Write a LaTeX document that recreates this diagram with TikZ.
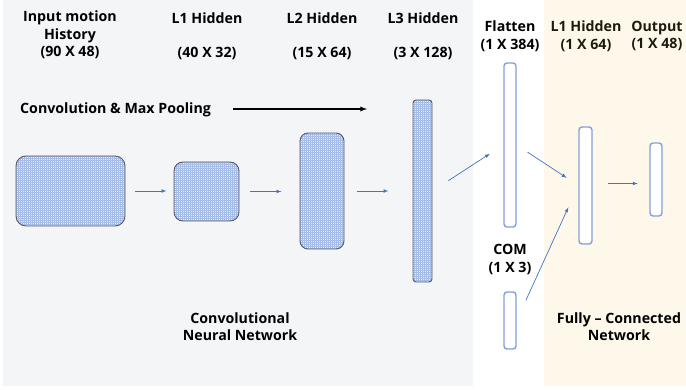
\documentclass[tikz,border=0pt]{standalone}
\usepackage{fontspec}
\setmainfont{Open Sans}
\usetikzlibrary{patterns}

\definecolor{cnnbg}{RGB}{244,245,247}
\definecolor{fcbg}{RGB}{254,248,234}
\definecolor{barblue}{RGB}{130,160,220}
\definecolor{arrblue}{RGB}{68,114,196}
\definecolor{gridblue}{RGB}{165,188,232}
\definecolor{fctext}{RGB}{30,26,12}

% finer grid than the library one
\pgfdeclarepatternformonly{finegrid}{\pgfqpoint{-1pt}{-1pt}}{\pgfqpoint{3pt}{3pt}}{\pgfqpoint{2pt}{2pt}}
{
  \pgfsetlinewidth{0.35pt}
  \pgfpathmoveto{\pgfqpoint{0pt}{0pt}}
  \pgfpathlineto{\pgfqpoint{0pt}{2.1pt}}
  \pgfpathmoveto{\pgfqpoint{0pt}{0pt}}
  \pgfpathlineto{\pgfqpoint{2.1pt}{0pt}}
  \pgfusepath{stroke}
}

\begin{document}
\begin{tikzpicture}[x=1pt,y=-1pt,
    every node/.style={font=\fontsize{14.2}{17.5}\selectfont\bfseries},
    layer/.style={draw={rgb,255:red,90;green,90;blue,95},line width=0.9pt,
        preaction={fill={rgb,255:red,226;green,233;blue,246}},
        preaction={pattern=finegrid,pattern color=gridblue},inner sep=0pt},
    bar/.style={draw=barblue,line width=1.4pt,fill=white,rounded corners=3pt,
        minimum width=12pt,inner sep=0pt},
    flow/.style={arrblue,-latex,line width=0.7pt},
    label/.style={align=center,inner sep=0pt}
]
    \useasboundingbox (0,0) rectangle (686,390);
    \fill[cnnbg] (3,0) rectangle (473,386);
    \fill[fcbg] (544,0) rectangle (686,386);

    % convolution part
    \node[layer,rounded corners=10pt,minimum width=109pt,minimum height=70pt] (in) at (70.5,191) {};
    \node[layer,rounded corners=9pt,minimum width=65pt,minimum height=59pt] (h1) at (206.5,191.5) {};
    \node[layer,rounded corners=8pt,minimum width=44pt,minimum height=116pt] (h2) at (322,191) {};
    \node[layer,rounded corners=3pt,minimum width=19pt,minimum height=182pt] (h3) at (422.5,191) {};

    \draw[flow] ([xshift=10]in.east) -- ++(31,0);
    \draw[flow] ([xshift=11]h1.east) -- ++(31,0);
    \draw[flow] ([xshift=13]h2.east) -- ++(31,0);

    % fully connected part
    \node[bar,minimum height=164pt] (flat) at (510,145) {};
    \node[bar,minimum height=57pt] (com) at (510,320.5) {};
    \node[bar,minimum width=13pt,minimum height=117pt] (fc1) at (585.5,185.5) {};
    \node[bar,minimum height=73pt] (out) at (656,179.5) {};

    \draw[flow,shorten <=19pt,shorten >=16pt] (h3.east) -- (flat.west);
    \draw[flow,shorten <=13pt,shorten >=14pt] (flat.east) -- (fc1.west);
    \draw[flow,shorten <=22pt,shorten >=24pt] (com.east) -- (fc1.west);
    \draw[flow] ([xshift=15,yshift=2]fc1.east) -- ++(30,0);

    \coordinate (cs) at (233,109);
    \coordinate (ce) at (367,109);
    \draw[-latex,line width=1.3pt] (cs) -- (ce);

    % labels
    \node[label] (tin) at (70,35) {Input motion\\History\\(90 X 48)};
    \node[label] (t1) at (207,18) {L1 Hidden};
    \node[label] (d1) at (207,53) {(40 X 32)};
    \node[label] (t2) at (322,18) {L2 Hidden};
    \node[label] (d2) at (322,53) {(15 X 64)};
    \node[label] (t3) at (423,18) {L3 Hidden};
    \node[label] (d3) at (423,53) {(3 X 128)};
    \node[label,anchor=west] (conv) at (20,110) {Convolution \& Max Pooling};
    \node[label] (tflat) at (510,36) {Flatten\\(1 X 384)};
    \node[label,text=fctext] (tfc1) at (586,36) {L1 Hidden\\(1 X 64)};
    \node[label,text=fctext] (tout) at (657,36) {Output\\(1 X 48)};
    \node[label] (tcom) at (510,259.5) {COM\\(1 X 3)};
    \node[label] (cnn) at (240,326.5) {Convolutional\\Neural Network};
    \node[label] (fcn) at (619,326.5) {Fully -- Connected\\Network};
\end{tikzpicture}
\end{document}
